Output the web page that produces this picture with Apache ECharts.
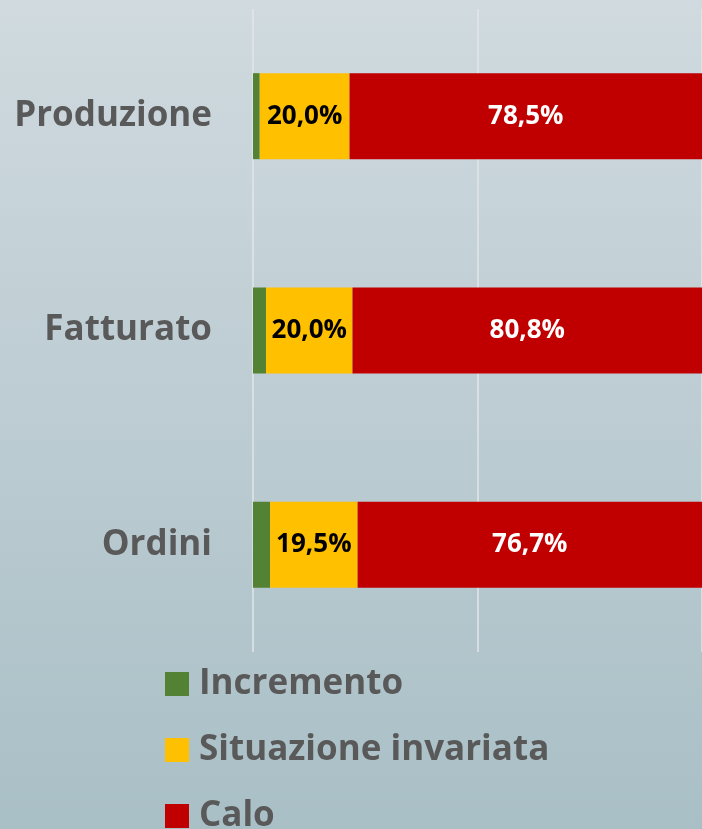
<!DOCTYPE html>
<html>
<head>
<meta charset="utf-8">
<style>
  html, body { margin: 0; padding: 0; }
  #chart { width: 702px; height: 829px; }
</style>
<script src="https://cdn.jsdelivr.net/npm/echarts@6/dist/echarts.min.js"></script>
</head>
<body>
<div id="chart"></div>
<script>
// categories, top to bottom
const categories = ['Produzione', 'Fatturato', 'Ordini']
const seriesNames = ['Incremento', 'Situazione invariata', 'Calo']

// raw percentages per category
const incremento = [1.5, 3.0, 3.8]
const invariata = [20.0, 20.0, 19.5]
const calo = [78.5, 80.8, 76.7]

const COLORS = ['#548235', '#FFC000', '#C00000']
const FONT = '"Open Sans"'

// 100% stacked: each bar is normalized to the row total
const totals = categories.map((_, i) => incremento[i] + invariata[i] + calo[i])
const share = (arr) => arr.map((v, i) => ({ value: (v / totals[i]) * 100, raw: v }))

const fmt = (p) => p.data.raw.toFixed(1).replace('.', ',') + '%'

const chart = echarts.init(document.getElementById('chart'))

chart.setOption({
  backgroundColor: new echarts.graphic.LinearGradient(0, 0, 0, 1, [
    { offset: 0, color: '#d0dadf' },
    { offset: 1, color: '#a9bfc6' },
  ]),
  animation: false,
  color: COLORS,
  grid: {
    left: 253,
    right: -3,
    top: 9,
    bottom: 829 - 652,
  },
  legend: {
    orient: 'vertical',
    left: 165,
    top: 665,
    height: 260,
    padding: 0,
    icon: 'rect',
    itemWidth: 24,
    itemHeight: 24,
    itemGap: 28,
    data: seriesNames,
    textStyle: {
      color: '#595959',
      fontFamily: FONT,
      fontWeight: 'bold',
      fontSize: 35,
      lineHeight: 38,
      padding: [0, 0, 0, 5],
    },
  },
  xAxis: {
    type: 'value',
    min: 0,
    max: 100,
    interval: 50,
    axisLabel: { show: false },
    axisLine: { show: false },
    axisTick: { show: false },
    splitLine: { lineStyle: { color: '#e2e6e8', width: 1.5 } },
  },
  yAxis: {
    type: 'category',
    inverse: true,
    data: categories,
    axisLine: { show: false },
    axisTick: { show: false },
    axisLabel: {
      color: '#595959',
      fontFamily: FONT,
      fontWeight: 'bold',
      fontSize: 35,
      margin: 41,
      padding: [6, 0, 0, 0],
    },
  },
  series: [
    {
      name: seriesNames[0],
      type: 'bar',
      stack: 'tot',
      barWidth: 86,
      data: share(incremento),
    },
    {
      name: seriesNames[1],
      type: 'bar',
      stack: 'tot',
      data: share(invariata),
      label: {
        show: true,
        position: 'inside',
        formatter: fmt,
        color: '#000',
        fontFamily: FONT,
        fontWeight: 'bold',
        fontSize: 26,
        padding: [4, 0, 0, 0],
      },
    },
    {
      name: seriesNames[2],
      type: 'bar',
      stack: 'tot',
      data: share(calo),
      label: {
        show: true,
        position: 'inside',
        formatter: fmt,
        color: '#fff',
        fontFamily: FONT,
        fontWeight: 'bold',
        fontSize: 26,
        padding: [4, 0, 0, 0],
      },
    },
  ],
})
</script>
</body>
</html>
